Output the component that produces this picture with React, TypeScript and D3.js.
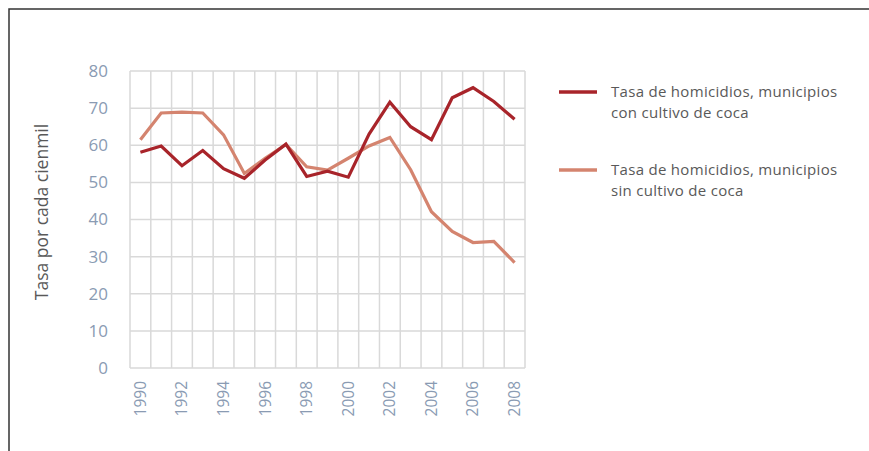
import React, { useRef, useEffect } from 'react';
import * as d3 from 'd3';

const years = [
  '1990', '1991', '1992', '1993', '1994', '1995', '1996', '1997', '1998', '1999',
  '2000', '2001', '2002', '2003', '2004', '2005', '2006', '2007', '2008',
];

// municipios con cultivo de coca
const conCultivo = [
  58.1, 59.8, 54.5, 58.6, 53.7, 51.1, 56.0, 60.3, 51.6, 53.0,
  51.4, 63.0, 71.6, 65.0, 61.5, 72.8, 75.5, 71.8, 67.0,
];

// municipios sin cultivo de coca
const sinCultivo = [
  61.5, 68.7, 68.9, 68.7, 62.8, 52.4, 56.5, 60.2, 54.2, 53.3,
  56.5, 59.8, 62.1, 53.4, 42.1, 36.8, 33.8, 34.1, 28.4,
];

const yTicks = [0, 10, 20, 30, 40, 50, 60, 70, 80];

const seriesNames = [
  ['Tasa de homicidios, municipios', 'con cultivo de coca'],
  ['Tasa de homicidios, municipios', 'sin cultivo de coca'],
];

const COLORS = ['#a8242a', '#d4846f'];

const W = 869;
const H = 451;

const App: React.FC = () => {
  const svgRef = useRef<SVGSVGElement>(null);

  useEffect(() => {
    if (!svgRef.current) return;
    const svg = d3.select(svgRef.current);
    svg.selectAll('*').remove();

    const plot = { left: 130, right: 525, top: 71, bottom: 368 };
    const font = '"Open Sans", sans-serif';

    // outer frame (top and left only)
    svg.append('path')
      .attr('d', `M9,${H} L9,9 L${W},9`)
      .attr('fill', 'none')
      .attr('stroke', '#333')
      .attr('stroke-width', 1.5);

    const x = d3.scaleBand<string>()
      .domain(years)
      .range([plot.left, plot.right])
      .paddingInner(0)
      .paddingOuter(0);

    const y = d3.scaleLinear()
      .domain([0, 80])
      .range([plot.bottom, plot.top]);

    const g = svg.append('g');

    // horizontal grid
    g.append('g')
      .selectAll('line')
      .data(yTicks)
      .enter()
      .append('line')
      .attr('x1', plot.left)
      .attr('x2', plot.right)
      .attr('y1', (d) => y(d))
      .attr('y2', (d) => y(d))
      .attr('stroke', '#d9d9d9')
      .attr('stroke-width', 1.5);

    // vertical grid at band edges
    const edges = years.map((yr) => x(yr) as number).concat([plot.right]);
    g.append('g')
      .selectAll('line')
      .data(edges)
      .enter()
      .append('line')
      .attr('x1', (d) => d)
      .attr('x2', (d) => d)
      .attr('y1', plot.top)
      .attr('y2', plot.bottom)
      .attr('stroke', '#d9d9d9')
      .attr('stroke-width', 1.5);

    // y tick labels
    g.append('g')
      .selectAll('text')
      .data(yTicks)
      .enter()
      .append('text')
      .attr('x', 108)
      .attr('y', (d) => y(d))
      .attr('dy', '0.35em')
      .attr('text-anchor', 'end')
      .attr('font-family', font)
      .attr('font-size', 17)
      .attr('fill', '#8a9bb3')
      .text((d) => d);

    // x tick labels (every second year), rotated
    const cx = (yr: string) => (x(yr) as number) + x.bandwidth() / 2;
    g.append('g')
      .selectAll('text')
      .data(years.filter((_, i) => i % 2 === 0))
      .enter()
      .append('text')
      .attr('transform', (d) => `translate(${cx(d)},${plot.bottom + 13}) rotate(-90)`)
      .attr('dy', '0.35em')
      .attr('text-anchor', 'end')
      .attr('font-family', font)
      .attr('font-size', 15.5)
      .attr('fill', '#8a9bb3')
      .text((d) => d);

    // y axis title
    svg.append('text')
      .attr('transform', `translate(42,212) rotate(-90)`)
      .attr('dy', '0.35em')
      .attr('text-anchor', 'middle')
      .attr('font-family', font)
      .attr('font-size', 17.5)
      .attr('fill', '#595959')
      .text('Tasa por cada cienmil');

    const line = d3.line<number>()
      .x((_, i) => cx(years[i]))
      .y((d) => y(d));

    [sinCultivo, conCultivo].forEach((vals, k) => {
      g.append('path')
        .datum(vals)
        .attr('d', line)
        .attr('fill', 'none')
        .attr('stroke', k === 0 ? COLORS[1] : COLORS[0])
        .attr('stroke-width', 3.2)
        .attr('stroke-linejoin', 'miter');
    });

    // legend
    const legend = svg.append('g');
    const legendY = [92, 170];
    seriesNames.forEach((lines, i) => {
      const row = legend.append('g').attr('transform', `translate(0,${legendY[i]})`);
      row.append('line')
        .attr('x1', 559)
        .attr('x2', 597)
        .attr('y1', 0)
        .attr('y2', 0)
        .attr('stroke', COLORS[i])
        .attr('stroke-width', 3.5);
      lines.forEach((t, j) => {
        row.append('text')
          .attr('x', 611)
          .attr('y', j * 20.5)
          .attr('dy', '0.35em')
          .attr('font-family', font)
          .attr('font-size', 15)
          .attr('letter-spacing', 0.3)
          .attr('fill', '#595959')
          .text(t);
      });
    });
  }, []);

  return <svg ref={svgRef} width={W} height={H} style={{ display: 'block', position: 'absolute', left: 0, top: 0 }} />;
};

export default App;
